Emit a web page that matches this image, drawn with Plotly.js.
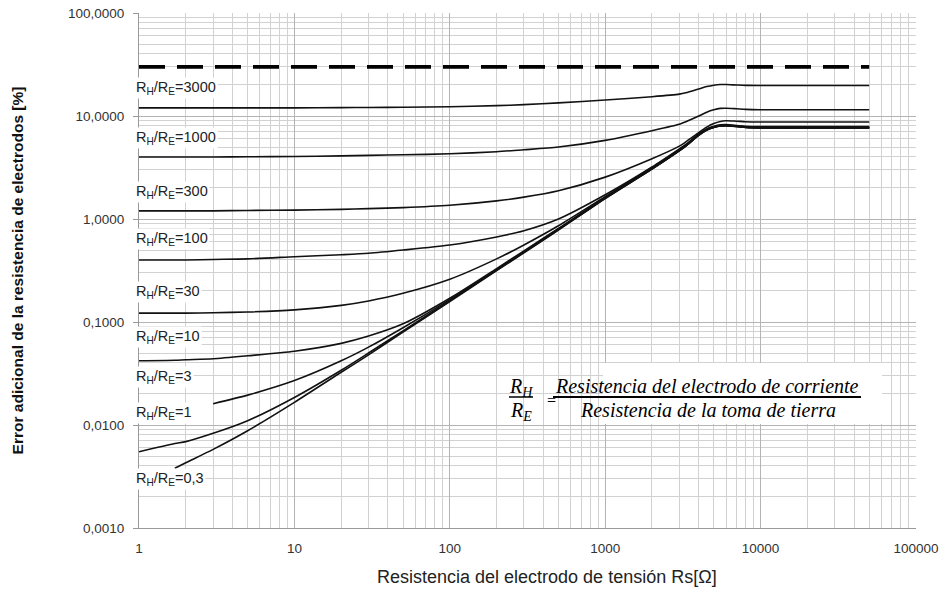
<!DOCTYPE html>
<html>
<head>
<meta charset="utf-8">
<script src="https://cdn.plot.ly/plotly-3.0.1.min.js"></script>
<style>html,body{margin:0;padding:0;background:#fff;}#chart{width:947px;height:598px;}</style>
</head>
<body>
<div id="chart"></div>
<script>
// Resistencia del electrodo de tensión Rs [Ω]
const rs = [1, 1.7, 2, 3, 5, 10, 20, 30, 50, 100, 200, 300, 500, 1000, 2000, 3000, 3300, 4000, 4500, 5000, 5500, 6000, 7000, 8000, 10000, 20000, 50000];

// Error adicional [%] for each RH/RE ratio
const err3000 = [12.0, 12.0, 12.0, 12.0, 12.0, 12.0, 12.05, 12.1, 12.15, 12.3, 12.6, 12.9, 13.4, 14.3, 15.4, 16.3, 16.8, 18.3, 19.3, 19.9, 20.2, 20.2, 20.0, 19.85, 19.8, 19.8, 19.8];
const err1000 = [4.0, 4.0, 4.0, 4.0, 4.02, 4.05, 4.1, 4.15, 4.2, 4.3, 4.5, 4.7, 5.0, 5.8, 7.2, 8.3, 8.8, 10.0, 10.9, 11.5, 11.85, 11.9, 11.75, 11.6, 11.5, 11.5, 11.5];
const err300  = [1.2, 1.2, 1.2, 1.2, 1.21, 1.22, 1.24, 1.26, 1.29, 1.36, 1.5, 1.63, 1.88, 2.55, 3.85, 5.1, 5.6, 6.9, 7.8, 8.45, 8.85, 9.0, 8.9, 8.8, 8.75, 8.75, 8.75];
const err100  = [0.40, 0.40, 0.40, 0.405, 0.41, 0.43, 0.45, 0.465, 0.50, 0.56, 0.67, 0.77, 1.0, 1.72, 3.2, 4.8, 5.3, 6.7, 7.5, 7.95, 8.2, 8.25, 8.1, 7.95, 7.9, 7.9, 7.9];
const err30   = [0.122, 0.122, 0.122, 0.123, 0.125, 0.131, 0.145, 0.16, 0.19, 0.26, 0.41, 0.56, 0.86, 1.65, 3.15, 4.7, 5.2, 6.6, 7.4, 7.85, 8.1, 8.15, 8.0, 7.85, 7.8, 7.8, 7.8];
const err10   = [0.042, 0.0425, 0.043, 0.044, 0.047, 0.052, 0.062, 0.073, 0.096, 0.17, 0.33, 0.49, 0.81, 1.62, 3.1, 4.65, 5.15, 6.55, 7.35, 7.8, 8.05, 8.1, 7.95, 7.8, 7.72, 7.72, 7.72];
const err3    = [null, null, null, 0.0161, 0.0195, 0.027, 0.042, 0.057, 0.088, 0.165, 0.322, 0.478, 0.795, 1.6, 3.08, 4.62, 5.12, 6.52, 7.32, 7.77, 8.02, 8.07, 7.92, 7.77, 7.68, 7.68, 7.68];
const err1    = [0.0055, 0.0066, 0.0069, 0.0083, 0.011, 0.0185, 0.034, 0.050, 0.082, 0.161, 0.318, 0.475, 0.79, 1.59, 3.06, 4.61, 5.11, 6.51, 7.31, 7.76, 8.01, 8.06, 7.91, 7.76, 7.66, 7.66, 7.66];
const err03   = [null, 0.0038, 0.0043, 0.0058, 0.0088, 0.0166, 0.0325, 0.048, 0.080, 0.158, 0.315, 0.47, 0.78, 1.58, 3.05, 4.6, 5.1, 6.5, 7.3, 7.75, 8.0, 8.05, 7.9, 7.75, 7.65, 7.65, 7.65];

// Limit line (dashed)
const limitX = [1, 50000];
const limitY = [30, 30];

// Axis tick labels
const xTickVals = [1, 10, 100, 1000, 10000, 100000];
const xTickText = ['1', '10', '100', '1000', '10000', '100000'];
const yTickVals = [0.001, 0.01, 0.1, 1, 10, 100];
const yTickText = ['0,0010', '0,0100', '0,1000', '1,0000', '10,0000', '100,0000'];

// Curve labels
const ratioLabels = ['3000', '1000', '300', '100', '30', '10', '3', '1', '0,3'];
const labelY = [88, 138, 192, 239, 292, 337, 377, 413, 479]; // pixel centres

const series = [err3000, err1000, err300, err100, err30, err10, err3, err1, err03];

const traces = series.map((ys, i) => ({
  x: rs, y: ys, type: 'scatter', mode: 'lines',
  name: 'RH/RE=' + ratioLabels[i],
  line: {color: '#111', width: 1.6, shape: 'spline', smoothing: 0.7},
  connectgaps: false, hoverinfo: 'skip'
}));
traces.unshift({
  x: limitX, y: limitY, type: 'scatter', mode: 'lines', name: 'límite',
  line: {color: '#000', width: 3.6, dash: '26px,12px'}, hoverinfo: 'skip'
});

const L = 139, R = 916, T = 13, B = 528;
const px2px = x => (x - L) / (R - L);
const py2py = y => (B - y) / (B - T);

const annotations = ratioLabels.map((r, i) => ({
  xref: 'paper', yref: 'paper', x: px2px(134), y: py2py(labelY[i]),
  xanchor: 'left', yanchor: 'middle', showarrow: false,
  text: 'R<sub>H</sub>/R<sub>E</sub>=' + r,
  font: {family: 'Liberation Sans, Arial, sans-serif', size: 14.5, color: '#222'},
  bgcolor: '#fff', borderpad: 1
}));

const serif = {family: 'Liberation Serif, Times New Roman, serif', size: 20, color: '#000'};
annotations.push(
  {xref:'paper', yref:'paper', x: px2px(521), y: py2py(387), showarrow:false, xanchor:'center', yanchor:'middle', text:'<i>R<sub>H</sub></i>', font: serif},
  {xref:'paper', yref:'paper', x: px2px(521), y: py2py(411), showarrow:false, xanchor:'center', yanchor:'middle', text:'<i>R<sub>E</sub></i>', font: serif},
  {xref:'paper', yref:'paper', x: px2px(551), y: py2py(401), showarrow:false, xanchor:'center', yanchor:'middle', text:'=', font: {family: serif.family, size: 16, color: '#000'}},
  {xref:'paper', yref:'paper', x: px2px(707), y: py2py(386), showarrow:false, xanchor:'center', yanchor:'middle', text:'<i>Resistencia del electrodo de corriente</i>', font: serif},
  {xref:'paper', yref:'paper', x: px2px(708), y: py2py(410), showarrow:false, xanchor:'center', yanchor:'middle', text:'<i>Resistencia de la toma de tierra</i>', font: serif},
  {xref:'paper', yref:'paper', x: px2px(547), y: py2py(577), showarrow:false, xanchor:'center', yanchor:'middle', text:'Resistencia del electrodo de tensión Rs[Ω]', font: {family: 'Liberation Sans, Arial, sans-serif', size: 18, color: '#222'}}
);

const shapes = [
  {type:'rect', xref:'paper', yref:'paper', x0: px2px(603), x1: px2px(882), y0: py2py(424), y1: py2py(363), fillcolor:'#fff', line:{width:0}, layer:'above'},
  {type:'line', xref:'paper', yref:'paper', x0: px2px(509), x1: px2px(533), y0: py2py(397), y1: py2py(397), line:{color:'#000', width:1.5}},
  {type:'line', xref:'paper', yref:'paper', x0: px2px(553), x1: px2px(861), y0: py2py(397), y1: py2py(397), line:{color:'#000', width:1.8}}
];

const gridMajor = '#b4b4b4', gridMinor = '#d2d2d2';
const tickFont = {family: 'Liberation Sans, Arial, sans-serif', size: 13.5, color: '#333'};
const layout = {
  width: 947, height: 598,
  margin: {l: L, r: 947 - R, t: T, b: 598 - B},
  paper_bgcolor: '#fff', plot_bgcolor: '#fff',
  showlegend: false,
  xaxis: {
    type: 'log', range: [0, 5], tickmode: 'array', tickvals: xTickVals, ticktext: xTickText,
    showgrid: true, gridcolor: gridMajor, gridwidth: 1,
    minor: {dtick: 'D1', showgrid: true, gridcolor: gridMinor, gridwidth: 1, ticks: ''},
    showline: true, linecolor: '#999', linewidth: 1, zeroline: false,
    ticks: 'outside', ticklen: 8, tickcolor: 'rgba(0,0,0,0)',
    tickfont: tickFont
  },
  yaxis: {
    type: 'log', range: [-3, 2], tickmode: 'array', tickvals: yTickVals, ticktext: yTickText,
    showgrid: true, gridcolor: gridMajor, gridwidth: 1,
    minor: {dtick: 'D1', showgrid: true, gridcolor: gridMinor, gridwidth: 1, ticks: ''},
    showline: true, linecolor: '#999', linewidth: 1, zeroline: false,
    ticks: 'outside', ticklen: 5, tickcolor: '#999', ticklabelstandoff: 6,
    tickfont: tickFont,
    title: {text: 'Error adicional de la resistencia de electrodos [%]', standoff: 40,
            font: {family: 'Liberation Sans, Arial, sans-serif', size: 15.5, color: '#111', weight: 'bold'}}
  },
  annotations: annotations,
  shapes: shapes
};

Plotly.newPlot('chart', traces, layout, {staticPlot: true, displayModeBar: false});
</script>
</body>
</html>
